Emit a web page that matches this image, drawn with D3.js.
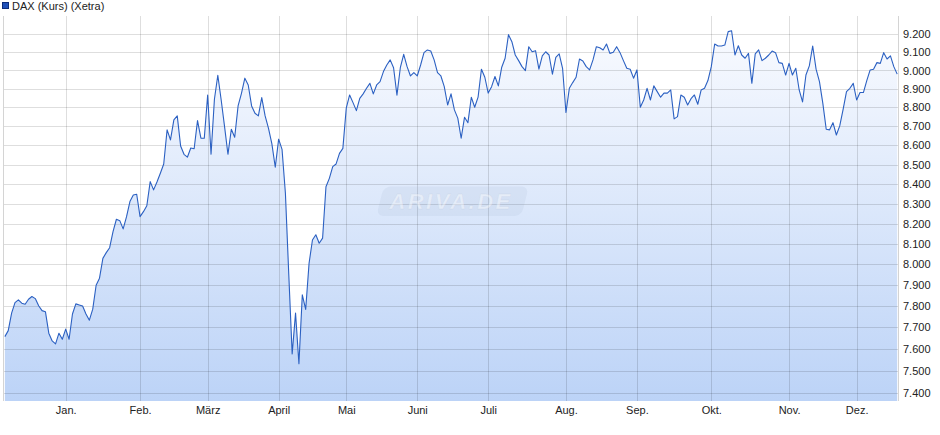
<!DOCTYPE html>
<html><head><meta charset="utf-8">
<script src="https://cdnjs.cloudflare.com/ajax/libs/d3/7.8.5/d3.min.js"></script>
<style>
html,body{margin:0;padding:0;background:#fff;}
svg{display:block;font-family:"Liberation Sans",Arial,sans-serif;}
</style></head>
<body>
<svg id="chart" width="940" height="435"></svg>
<script>
const seriesName = "DAX (Kurs) (Xetra)";
const monthLabels = ["Jan.","Feb.","März","April","Mai","Juni","Juli","Aug.","Sep.","Okt.","Nov.","Dez."];
const monthStartIndex = [18,40,60,81,101,122,143,166,187,209,232,252];
const yTickValues = [7400,7500,7600,7700,7800,7900,8000,8100,8200,8300,8400,8500,8600,8700,8800,8900,9000,9100,9200];
const values = [
7656,7684,7766,7816,7829,7813,7808,7832,7845,7835,7801,7778,7773,7672,7636,7622,7672,7644,7691,7644,
7762,7810,7805,7800,7762,7733,7785,7899,7933,8029,8057,8081,8160,8222,8215,8174,8235,8311,8344,8348,
8235,8260,8290,8412,8370,8410,8455,8503,8681,8628,8734,8755,8596,8553,8538,8586,8582,8730,8637,8637,
8867,8553,8844,8974,8840,8698,8553,8684,8642,8808,8876,8958,8921,8808,8769,8755,8853,8755,8689,8607,
8486,8632,8579,8353,7950,7576,7766,7531,7853,7784,8005,8119,8145,8103,8128,8386,8429,8489,8503,8558,
8584,8796,8867,8826,8783,8849,8873,8903,8930,8873,8921,8939,8994,9030,9058,9015,8866,9015,9089,9021,
8970,8988,8970,9030,9098,9113,9107,9058,8988,8970,8912,8813,8873,8787,8743,8637,8748,8719,8855,8801,
8855,9007,8963,8877,8912,8967,8916,9018,9067,9198,9159,9085,9054,9021,8999,9131,9103,9109,9007,9080,
9103,9085,8980,9072,9091,9012,8773,8903,8934,8963,9063,9052,9021,9003,9058,9131,9125,9113,9146,9094,
9100,9131,9098,9054,9012,9007,8958,9003,8801,8840,8903,8840,8916,8885,8855,8877,8877,8894,8739,8751,
8867,8855,8813,8847,8867,8817,8894,8903,8945,9021,9146,9135,9135,9140,9215,9220,9085,9136,9085,9067,
9094,8930,9091,9113,9054,9067,9085,9107,9098,9043,9039,8975,9039,8975,9012,8894,8830,8975,9025,9135,
9007,8939,8822,8684,8681,8719,8654,8702,8790,8885,8903,8930,8840,8880,8880,8945,9003,9007,9043,9039,
9098,9063,9080,9021,8980
];

const svg = d3.select("#chart");
const plotLeft = 3, plotRight = 898, plotTop = 16, plotBottom = 401;

const x = d3.scaleLinear().domain([0, values.length - 1]).range([4.86, 897.2]);
const y = d3.scaleLog().domain([7400, 9200]).range([392.6, 34.3]);

const defs = svg.append("defs");
const grad = defs.append("linearGradient").attr("id","fillGrad")
  .attr("gradientUnits","userSpaceOnUse").attr("x1",0).attr("y1",plotTop).attr("x2",0).attr("y2",plotBottom);
grad.append("stop").attr("offset","0%").attr("stop-color","#fbfcff");
grad.append("stop").attr("offset","100%").attr("stop-color","#bcd3f7");

// area fill
const area = d3.area().x((d,i)=>x(i)).y0(plotBottom).y1(d=>y(d));
svg.append("path").datum(values).attr("d", area).attr("fill","url(#fillGrad)");

// gridlines
const grid = svg.append("g");
grid.selectAll("line.h").data(yTickValues).join("line")
  .attr("x1",plotLeft).attr("x2",plotRight)
  .attr("y1",d=>Math.round(y(d))+0.5).attr("y2",d=>Math.round(y(d))+0.5)
  .attr("stroke","rgba(0,0,0,0.13)").attr("stroke-width",1);
grid.selectAll("line.v").data(monthStartIndex).join("line")
  .attr("x1",d=>Math.round(x(d))+0.5).attr("x2",d=>Math.round(x(d))+0.5)
  .attr("y1",plotTop).attr("y2",plotBottom)
  .attr("stroke","rgba(0,0,0,0.13)").attr("stroke-width",1);
// borders
svg.append("line").attr("x1",plotLeft+0.5).attr("x2",plotLeft+0.5).attr("y1",plotTop).attr("y2",plotBottom)
  .attr("stroke","#d4d4d4");
svg.append("line").attr("x1",plotRight+0.5).attr("x2",plotRight+0.5).attr("y1",plotTop).attr("y2",plotBottom)
  .attr("stroke","#d4d4d4");

// watermark
const wm = svg.append("g").attr("transform","translate(451,201.5)");
wm.append("g").attr("transform","skewX(-14)")
  .append("rect").attr("x",-71).attr("y",-15).attr("width",145).attr("height",29.5).attr("rx",7)
  .attr("fill","rgba(120,140,175,0.09)");
wm.append("text").attr("text-anchor","middle").attr("dy","0.36em")
  .attr("font-size",22).attr("font-style","italic").attr("font-weight","bold").attr("letter-spacing",2.5)
  .attr("fill","rgba(255,255,255,0.42)").attr("stroke","rgba(150,165,195,0.12)").attr("stroke-width",0.8)
  .text("ARIVA.DE");

// line
const line = d3.line().x((d,i)=>x(i)).y(d=>y(d));
svg.append("path").datum(values).attr("d", line)
  .attr("fill","none").attr("stroke","#2b60c2").attr("stroke-width",1.1).attr("stroke-linejoin","round");

// axes
const de = d3.formatLocale({decimal:",", thousands:".", grouping:[3], currency:["","€"]});
const yAxis = d3.axisRight(y).tickValues(yTickValues).tickSize(0).tickPadding(5).tickFormat(de.format(","));
const gy = svg.append("g").attr("transform",`translate(${plotRight},0)`).call(yAxis);
gy.select(".domain").remove();
gy.selectAll("text").attr("font-size",11).attr("fill","#222").attr("font-family","Liberation Sans, Arial, sans-serif");

const xAxis = d3.axisBottom(x).tickValues(monthStartIndex).tickSize(0).tickPadding(5)
  .tickFormat((d,i)=>monthLabels[i]);
const gx = svg.append("g").attr("transform",`translate(0,${plotBottom})`).call(xAxis);
gx.select(".domain").remove();
gx.selectAll("text").attr("font-size",11).attr("fill","#222").attr("font-family","Liberation Sans, Arial, sans-serif");

// legend
const lg = svg.append("g");
lg.append("rect").attr("x",2.5).attr("y",2.5).attr("width",6).attr("height",6)
  .attr("fill","#1f50b8").attr("stroke","#0c2c7a").attr("stroke-width",1);
lg.append("text").attr("x",12).attr("y",6).attr("dy","0.35em").attr("font-size",11).attr("fill","#222")
  .text(seriesName);
</script>
</body></html>
